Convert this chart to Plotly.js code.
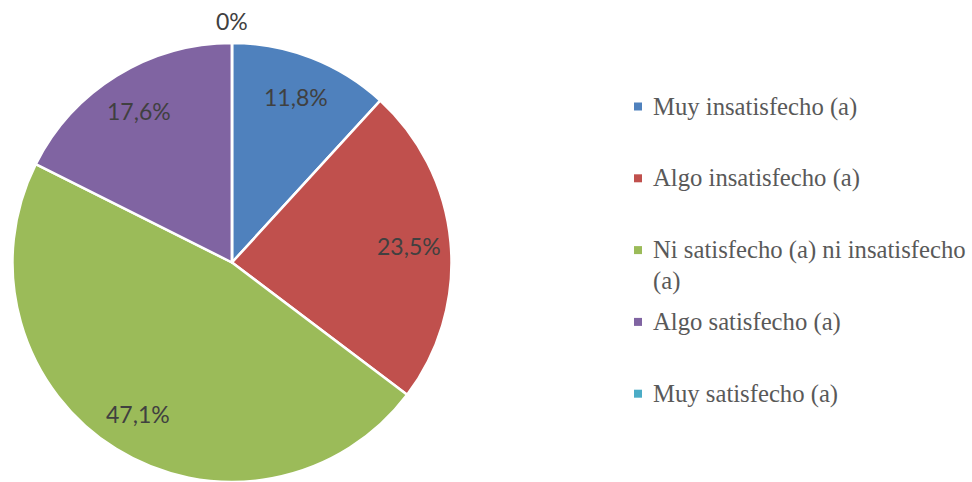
<!DOCTYPE html>
<html>
<head>
<meta charset="utf-8">
<script src="https://cdn.plot.ly/plotly-3.0.1.min.js"></script>
<style>html,body{margin:0;padding:0;background:#fff;}#chart{width:972px;height:482px;}</style>
</head>
<body>
<div id="chart"></div>
<script>
// ---- data ----
const categories = [
  "Muy insatisfecho (a)",
  "Algo insatisfecho (a)",
  "Ni satisfecho (a) ni insatisfecho<br>(a)",
  "Algo satisfecho (a)",
  "Muy satisfecho (a)"
];
const percentages = [11.8, 23.5, 47.1, 17.6, 0];
const labelTexts = ["11,8%", "23,5%", "47,1%", "17,6%", "0%"];
const colors = ["#4F81BD", "#C0504D", "#9BBB59", "#8064A2", "#4BACC6"];

// ---- layout constants ----
const W = 972, H = 482;
const domX = [0.01235, 0.465];
const domY = [0.0, 0.9108];
const labelFont = {family: "Lato, 'Liberation Sans', sans-serif", size: 23, color: "#404040"};
const legendFont = {family: "'Liberation Serif', serif", size: 24.7, color: "#595959"};

// pie geometry in pixels (derived from the domain)
const pw = (domX[1]-domX[0])*W, ph = (domY[1]-domY[0])*H;
const R = Math.min(pw, ph)/2;
const cx = (domX[0]+domX[1])/2*W;
const cy = H - (domY[0]+domY[1])/2*H;

const total = percentages.reduce((a,b)=>a+b,0);
const annotations = [];
let cum = 0;
percentages.forEach((v,i)=>{
  const mid = (cum + v/2)/total * 2*Math.PI;
  cum += v;
  const f = v > 0 ? 0.81 : 1.1;
  const px = cx + f*R*Math.sin(mid);
  const py = cy - f*R*Math.cos(mid);
  annotations.push({
    x: px/W, y: 1 - py/H, xref: "paper", yref: "paper",
    text: labelTexts[i], showarrow: false, font: labelFont,
    xanchor: "center", yanchor: "middle"
  });
});

// ---- manual legend ----
const legX0 = 634, legTextX = 651, legY0 = 106.5, legStep = 71.8, lineStep = 31, sq = 8;
const shapes = [];
categories.forEach((c,i)=>{
  const yc = legY0 + i*legStep;
  shapes.push({type:"rect", xref:"paper", yref:"paper",
    x0: legX0/W, x1: (legX0+sq)/W, y0: 1-(yc+sq/2)/H, y1: 1-(yc-sq/2)/H,
    fillcolor: colors[i], line:{width:0}});
  c.split("<br>").forEach((ln,j)=>{
    annotations.push({
      x: legTextX/W, y: 1-(yc + j*lineStep)/H, xref:"paper", yref:"paper",
      text: ln, showarrow:false, font: legendFont,
      xanchor:"left", yanchor:"middle"
    });
  });
});

const trace = {
  type: "pie",
  labels: categories,
  values: percentages,
  sort: false,
  direction: "clockwise",
  rotation: 0,
  textinfo: "none",
  hoverinfo: "label+percent",
  marker: {colors: colors, line: {color: "#FFFFFF", width: 2.5}},
  domain: {x: domX, y: domY},
  showlegend: false
};

const layout = {
  width: W, height: H,
  margin: {l:0, r:0, t:0, b:0},
  paper_bgcolor: "#FFFFFF",
  showlegend: false,
  annotations: annotations,
  shapes: shapes
};

Plotly.newPlot("chart", [trace], layout, {displayModeBar:false, staticPlot:true});
</script>
</body>
</html>
